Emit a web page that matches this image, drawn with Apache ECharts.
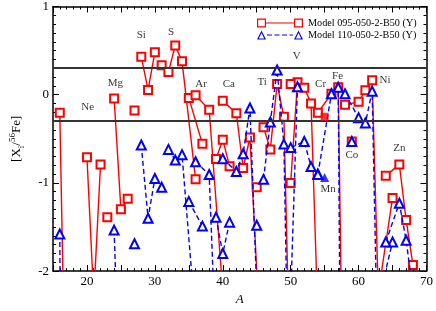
<!DOCTYPE html>
<html><head><meta charset="utf-8">
<script src="https://cdn.jsdelivr.net/npm/echarts@6/dist/echarts.min.js"></script>
<style>html,body{margin:0;padding:0;background:#fff}#c{width:436px;height:311px}</style>
</head><body><div id="c"></div>
<script>
// Mass numbers (null = break between elements) and [X_i/56Fe] values
const isoA_095 = [16,17,18,null, 20,21,22,null, 23,null, 24,25,26,null, 27,null, 28,29,30,null, 31,null, 32,33,34,36,null, 35,37,null, 36,38,40,null, 39,40,41,null, 40,42,43,44,46,null, 45,null, 46,47,48,49,50,null, 50,51,null, 50,52,53,54,null, 54,56,57,58,null, 59,null, 58,60,61,62,64,null, 63,65,null, 64,66,67,68];
const val_095  = [-0.205,-4.2,-4.5,null, -0.71,-2.3,-0.79,null, -1.39,null, -0.043,-1.30,-1.18,null, -0.18,null, 0.43,0.054,0.48,null, 0.334,null, 0.256,0.558,0.378,-0.96,null, -0.036,-0.557,null, -0.006,-0.17,-2.23,null, -0.73,-0.51,-0.81,null, -0.07,-0.21,-0.83,-0.485,-3.5,null, -1.05,null, -0.37,-0.62,0.12,-0.25,-3.5,null, -1.0,0.14,null, 0.12,0.08,-0.10,-2.5,null, -0.205,0.01,0.085,-5.1,null, -0.53,null, -0.115,-0.08,0.05,0.165,-5.2,null, -2.2,-1.17,null, -0.92,-0.79,-1.42,-1.93];

const isoA_110 = [16,17,null, 24,25,26,null, 27,null, 28,29,30,null, 31,null, 32,33,34,36,null, 35,37,null, 36,38,40,null, 39,40,41,null, 40,42,43,44,46,null, 45,null, 46,47,48,49,50,null, 50,51,null, 50,52,53,54,null, 54,56,57,58,null, 59,null, 58,60,61,62,64,null, 63,65,null, 64,66,67,68];
const val_110  = [-1.58,-15,null, -1.535,-3.8,-4,null, -1.69,null, -0.57,-1.40,-0.95,null, -1.05,null, -0.62,-0.74,-0.68,-2.57,null, -1.21,-1.49,null, -0.76,-0.905,-4.9,null, -1.39,-1.80,-1.445,null, -0.725,-0.87,-0.67,-0.15,-4.25,null, -1.48,null, -0.96,-0.31,0.28,-0.56,-4.7,null, -2.3,0.09,null, -0.60,-0.53,-0.815,-0.90,null, -0.905,0.01,0.085,-10,null, -0.53,null, 0.01,-0.26,-0.32,0.04,-7.4,null, -2.31,-1.67,null, -1.67,-1.23,-1.65,-2.23];

// Mn55 (filled markers)
const mnA = [55];
const mnVal_095 = [-0.25];
const mnVal_110 = [-0.94];

// Element labels
const elemNames  = ['Ne','Mg','Si','S','Ar','Ca','Ti','V','Cr','Fe','Ni','Co','Mn','Zn'];
const elemLabelA = [20.1,24.2,28.0,32.4,36.8,40.9,45.8,50.9,54.4,56.9,63.9,59.0,55.5,66.0];
const elemLabelY = [-0.14,0.13,0.68,0.71,0.12,0.12,0.14,0.435,0.12,0.21,0.17,-0.69,-1.07,-0.61];

const refLines = [0.3, -0.3];
const seriesNames = ['Model 095-050-2-B50 (Y)', 'Model 110-050-2-B50 (Y)'];

function build(As, Vs) {
  return As.map((a, i) => a === null ? ['-', '-'] : [a, Vs[i]]);
}

const FONT = 'Liberation Serif';
const chart = echarts.init(document.getElementById('c'), null, {renderer: 'canvas'});

const redIcon = 'path://M0,0 L9,0 L9,9 L0,9 Z M1.2,1.2 L1.2,7.8 L7.8,7.8 L7.8,1.2 Z ' +
  'M37,0 L46,0 L46,9 L37,9 Z M38.2,1.2 L38.2,7.8 L44.8,7.8 L44.8,1.2 Z ' +
  'M9,3.9 L37,3.9 L37,5.1 L9,5.1 Z';
const blueIcon = 'path://M4.5,0 L9,9 L0,9 Z M4.5,2.5 L1.8,7.9 L7.2,7.9 Z ' +
  'M41.5,0 L46,9 L37,9 Z M41.5,2.5 L38.8,7.9 L44.2,7.9 Z ' +
  'M10,3.9 L15,3.9 L15,5.1 L10,5.1 Z M17.5,3.9 L22.5,3.9 L22.5,5.1 L17.5,5.1 Z ' +
  'M25,3.9 L30,3.9 L30,5.1 L25,5.1 Z M32.5,3.9 L36,3.9 L36,5.1 L32.5,5.1 Z';

const axisCommon = {
  type: 'value',
  axisLine: {show: true, onZero: false, lineStyle: {color: '#000', width: 1.5}},
  axisTick: {show: true, inside: true, length: 6, lineStyle: {color: '#000', width: 1}},
  minorTick: {show: true, length: 3, lineStyle: {color: '#000', width: 1}},
  splitLine: {show: false},
  minorSplitLine: {show: false}
};

const option = {
  animation: false,
  backgroundColor: '#fff',
  grid: {left: 40, right: 8, top: 5, bottom: 28, containLabel: false},
  legend: {
    orient: 'vertical', left: 257, top: 18, padding: 0,
    itemWidth: 46, itemHeight: 9, itemGap: 2,
    textStyle: {fontFamily: FONT, fontSize: 10.2, color: '#000'},
    data: [
      {name: seriesNames[0], icon: redIcon, itemStyle: {color: '#ff0000', borderWidth: 0}},
      {name: seriesNames[1], icon: blueIcon, itemStyle: {color: '#0000ff', borderWidth: 0}}
    ]
  },
  xAxis: [
    Object.assign({}, axisCommon, {
      min: 15, max: 70, interval: 5, position: 'bottom',
      minorTick: Object.assign({}, axisCommon.minorTick, {splitNumber: 5}),
      axisLabel: {show: true, margin: 4, color: '#000', fontFamily: FONT, fontSize: 13,
        formatter: v => (v % 10 === 0 ? String(v) : '')},
      name: 'A', nameLocation: 'middle', nameGap: 15,
      nameTextStyle: {fontFamily: FONT, fontSize: 13, fontStyle: 'italic', color: '#000'}
    }),
    Object.assign({}, axisCommon, {
      min: 15, max: 70, interval: 5, position: 'top',
      minorTick: Object.assign({}, axisCommon.minorTick, {splitNumber: 5}),
      axisLabel: {show: false}
    })
  ],
  yAxis: [
    Object.assign({}, axisCommon, {
      min: -2, max: 1, interval: 1, position: 'left',
      minorTick: Object.assign({}, axisCommon.minorTick, {splitNumber: 10}),
      axisLabel: {show: true, margin: 4, color: '#000', fontFamily: FONT, fontSize: 13},
      name: '{a|[X}{s|i}{a|/}{p|56}{a|Fe]}', nameLocation: 'middle', nameGap: 27, nameRotate: 90,
      nameTextStyle: {fontFamily: FONT, fontSize: 13, color: '#000',
        rich: {
          a: {fontFamily: FONT, fontSize: 13, color: '#000', lineHeight: 18, verticalAlign: 'middle'},
          s: {fontFamily: FONT, fontSize: 9, color: '#000', lineHeight: 9, verticalAlign: 'bottom'},
          p: {fontFamily: FONT, fontSize: 9, color: '#000', lineHeight: 9, verticalAlign: 'top'}
        }}
    }),
    Object.assign({}, axisCommon, {
      min: -2, max: 1, interval: 1, position: 'right',
      minorTick: Object.assign({}, axisCommon.minorTick, {splitNumber: 10}),
      axisLabel: {show: false}
    })
  ],
  series: [
    {
      name: seriesNames[0], type: 'line', xAxisIndex: 0, yAxisIndex: 0,
      data: build(isoA_095, val_095), connectNulls: false, clip: true,
      symbol: 'emptyRect', symbolSize: 8, showAllSymbol: true,
      itemStyle: {color: '#ff0000', borderWidth: 0.9},
      lineStyle: {color: '#ff0000', width: 1.4},
      markLine: {
        silent: true, symbol: 'none', label: {show: false},
        lineStyle: {color: '#333', width: 2, type: 'solid'},
        data: refLines.map(v => ({yAxis: v}))
      },
      z: 3
    },
    {
      name: seriesNames[1], type: 'line', xAxisIndex: 0, yAxisIndex: 0,
      data: build(isoA_110, val_110), connectNulls: false, clip: true,
      symbol: 'emptyTriangle', symbolSize: 9, showAllSymbol: true,
      itemStyle: {color: '#0000ff', borderWidth: 0.9},
      lineStyle: {color: '#0000ff', width: 1.4, type: [5, 3]},
      z: 4
    },
    {
      type: 'scatter', data: mnA.map((a, i) => [a, mnVal_095[i]]),
      symbol: 'rect', symbolSize: 8, itemStyle: {color: '#ff0000'}, silent: true, z: 5
    },
    {
      type: 'scatter', data: mnA.map((a, i) => [a, mnVal_110[i]]),
      symbol: 'triangle', symbolSize: 9, itemStyle: {color: '#0000ff'}, silent: true, z: 5
    },
    {
      type: 'scatter', symbolSize: 0, silent: true, z: 6,
      data: elemNames.map((n, i) => ({name: n, value: [elemLabelA[i], elemLabelY[i]]})),
      label: {show: true, position: 'inside', formatter: p => p.name,
        fontFamily: FONT, fontSize: 11, color: '#000'}
    }
  ]
};
chart.setOption(option);
</script>
</body></html>
